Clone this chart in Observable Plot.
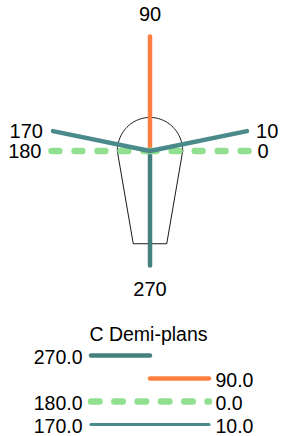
<!DOCTYPE html>
<html>
<head>
<meta charset="utf-8">
<script src="https://cdn.jsdelivr.net/npm/d3@7"></script>
<script src="https://cdn.jsdelivr.net/npm/@observablehq/plot@0.6"></script>
<style>
  html, body { margin: 0; padding: 0; background: #fff; }
  #chart svg, #legend svg { display: block; }
</style>
</head>
<body>
<div id="chart"></div>
<div id="legend"></div>
<script>
// ---- Data ----
const legendTitle = "C Demi-plans";
// each demi-plan entry: angle on the left half of the legend, angle on the right half
const leftAngles  = [270, null, 180, 170];
const rightAngles = [null, 90, 0, 10];
const seriesColors = ["#44817e", "#ff7f40", "#90e090", "#4b8a8b"];
const seriesDashed = [false, false, true, false];

// glass outline (in chart units)
const glassTopHalfWidth = 0.332;
const glassDomeHeight = 0.293;
const glassDepth = 0.81;
const glassBottomHalfWidth = 0.17;

// ---- Build tables ----
const rad = a => a * Math.PI / 180;
const halves = [];
leftAngles.forEach((a, i) => {
  if (a != null) halves.push({angle: a, entry: i});
  if (rightAngles[i] != null) halves.push({angle: rightAngles[i], entry: i});
});
const halfPaths = [];
halves.forEach((h, k) => {
  halfPaths.push({k, entry: h.entry, x: Math.cos(rad(h.angle)), y: Math.sin(rad(h.angle))});
  halfPaths.push({k, entry: h.entry, x: 0, y: 0});
});

const glass = [];
const nArc = 60;
for (let j = 0; j <= nArc; j++) {
  const t = Math.PI * j / nArc;
  glass.push({x: glassTopHalfWidth * Math.cos(t), y: glassDomeHeight * Math.sin(t)});
}
glass.push({x: -glassTopHalfWidth, y: 0});
glass.push({x: -glassBottomHalfWidth, y: -glassDepth});
glass.push({x: glassBottomHalfWidth, y: -glassDepth});
glass.push({x: glassTopHalfWidth, y: 0});

const labels = halves.map(h => ({
  angle: h.angle,
  text: String(h.angle),
  x: Math.cos(rad(h.angle)),
  y: Math.sin(rad(h.angle))
}));
const FONT = "'Liberation Sans', Arial, sans-serif";
const FS = 20;

// draw order follows the legend entries; dashed entry drawn with its own mark
const pathMarks = [];
[0, 1, 2, 3].forEach(i => {
  const data = halfPaths.filter(d => d.entry === i);
  pathMarks.push(Plot.line(data, {
    x: "x", y: "y", z: "k",
    stroke: seriesColors[i],
    strokeWidth: seriesDashed[i] ? 6.5 : 4.5,
    strokeDasharray: seriesDashed[i] ? "7.8,15.2" : undefined,
    strokeLinecap: "round",
    strokeLinejoin: "round"
  }));
});

const chart = Plot.plot({
  width: 281,
  height: 300,
  margin: 0,
  style: {fontFamily: FONT, background: "#fff"},
  x: {domain: [-1, 1], range: [51, 248], axis: null},
  y: {domain: [-1, 1], range: [265, 36], axis: null},
  marks: [
    Plot.line(glass, {x: "x", y: "y", stroke: "black", strokeWidth: 0.9}),
    ...pathMarks,
    Plot.text(labels.filter(d => d.angle === 90), {x: "x", y: "y", text: "text", dy: -21.5, fontSize: FS, fill: "black"}),
    Plot.text(labels.filter(d => d.angle === 270), {x: "x", y: "y", text: "text", dy: 24, fontSize: FS, fill: "black"}),
    Plot.text(labels.filter(d => Math.cos(rad(d.angle)) > 0.5), {x: "x", y: "y", text: "text", dx: 9, dy: 0.5, textAnchor: "start", fontSize: FS, fill: "black"}),
    Plot.text(labels.filter(d => Math.cos(rad(d.angle)) < -0.5), {x: "x", y: "y", text: "text", dx: -10, dy: 0.5, textAnchor: "end", fontSize: FS, fill: "black"})
  ]
});
document.getElementById("chart").appendChild(chart);

// ---- Legend (second Plot) ----
const legX0 = 90.5, legXm = 149.5, legX1 = 208.5;
const rowY = i => 55 + 23 * i;
const legMarks = [];
leftAngles.forEach((a, i) => {
  const xs = a != null ? legX0 : legXm;
  const xe = rightAngles[i] != null ? legX1 : legXm;
  legMarks.push(Plot.line([{x: xs, y: rowY(i)}, {x: xe, y: rowY(i)}], {
    x: "x", y: "y",
    stroke: seriesColors[i],
    strokeWidth: seriesDashed[i] ? 6.5 : (i === 3 ? 3.2 : 4.5),
    strokeDasharray: seriesDashed[i] ? "8.5,14.8" : undefined,
    strokeLinecap: "round"
  }));
});
const legLeftLabels = leftAngles.map((a, i) => ({text: a == null ? "" : a.toFixed(1), y: rowY(i)})).filter(d => d.text);
const legRightLabels = rightAngles.map((a, i) => ({text: a == null ? "" : a.toFixed(1), y: rowY(i)})).filter(d => d.text);

const legend = Plot.plot({
  width: 281,
  height: 136,
  margin: 0,
  style: {fontFamily: FONT, background: "#fff"},
  x: {domain: [0, 281], range: [0, 281], axis: null},
  y: {domain: [0, 136], range: [0, 136], axis: null},
  marks: [
    Plot.text([legendTitle], {x: () => 148, y: () => 34, text: d => d, fontSize: 19.5, fill: "black"}),
    ...legMarks,
    Plot.text(legLeftLabels, {x: () => 82, y: "y", text: "text", dy: 2.5, textAnchor: "end", fontSize: 19.5, fill: "black"}),
    Plot.text(legRightLabels, {x: () => 215, y: "y", text: "text", dy: 2.5, textAnchor: "start", fontSize: 19.5, fill: "black"})
  ]
});
document.getElementById("legend").appendChild(legend);
</script>
</body>
</html>
